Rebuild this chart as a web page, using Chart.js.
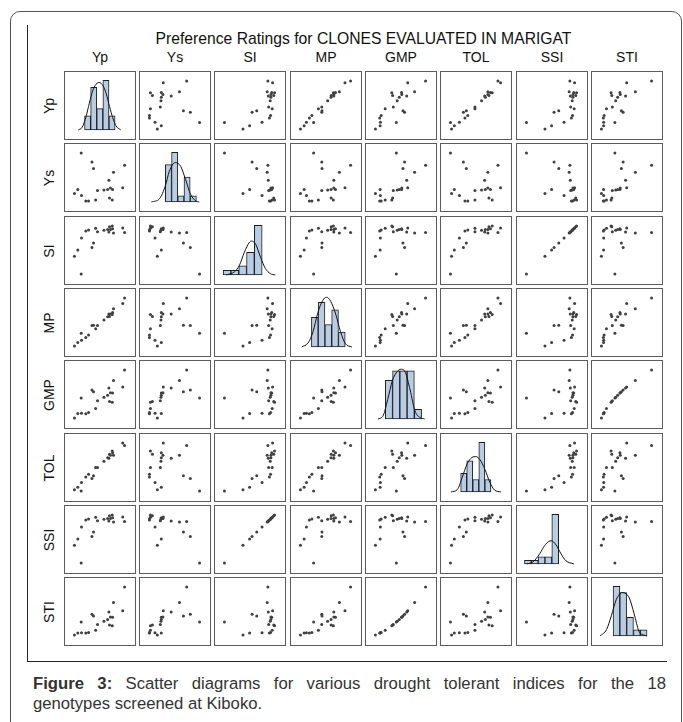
<!DOCTYPE html>
<html>
<head>
<meta charset="utf-8">
<script src="https://cdn.jsdelivr.net/npm/chart.js@4.4.0/dist/chart.umd.min.js"></script>
<style>
  body { margin: 0; background: #fff; font-family: "Liberation Sans", Arial, sans-serif; }
  #page { position: relative; width: 683px; height: 722px; overflow: hidden; }
  .frame { position: absolute; left: 10px; top: 11px; width: 672px; height: 760px;
           border: 1px solid #555; border-radius: 10px; box-sizing: border-box; }
  .vline { position: absolute; left: 27px; top: 25px; width: 1px; height: 636px; background: #222; }
  .hline { position: absolute; left: 27px; top: 661px; width: 640px; height: 1px; background: #222; }
  .title { position: absolute; left: 64px; width: 599px; top: 30px; text-align: center;
           font-size: 15.7px; color: #111; line-height: 18px; white-space: nowrap; }
  .collab { position: absolute; top: 48px; width: 72px; text-align: center; font-size: 14px;
            line-height: 18px; color: #111; }
  .rowlab { position: absolute; width: 60px; height: 18px; line-height: 18px; text-align: center;
            font-size: 14px; color: #111; transform: rotate(-90deg); }
  .panel { position: absolute; width: 72px; height: 69px; box-sizing: border-box;
           border: 1.5px solid #5c5c5c; background: #fff; }
  .panel canvas { display: block; }
  .caption { position: absolute; left: 33px; width: 633px; font-size: 16.7px; color: #333; line-height: 20px; }
  .cap1 { top: 674px; text-align: justify; text-align-last: justify; white-space: nowrap; }
  .cap2 { top: 694px; }
</style>
</head>
<body>
<div id="page">
  <div class="frame"></div>
  <div class="vline"></div>
  <div class="hline"></div>
  <div class="title">Preference Ratings for CLONES EVALUATED IN MARIGAT</div>
  <div class="caption cap1"><b>Figure 3:</b> Scatter diagrams for various drought tolerant indices for the 18</div>
  <div class="caption cap2">genotypes screened at Kiboko.</div>
</div>
<script>
// variable names (diagonal labels)
const varNames = ['Yp', 'Ys', 'SI', 'MP', 'GMP', 'TOL', 'SSI', 'STI'];

// values per clone
const yp  = [4.7, 8.2, 8.7, 18.8, 15.2, 13.7, 18.2, 2.5, 3.6, 4.8, 6.2, 7.1, 9.4, 10.0, 12.1, 13.3, 14.2, 14.9, 13.9, 14.8];
const ys  = [3.94, 3.38, 2.96, 3.16, 2.72, 2.22, 1.74, 1.38, 1.62, 1.24, 0.90, 0.90, 0.96, 1.56, 1.60, 1.62, 1.72, 1.62, 1.08, 0.96];
const si  = [0.162, 0.588, 0.660, 0.832, 0.821, 0.838, 0.904, 0.448, 0.550, 0.742, 0.855, 0.873, 0.898, 0.844, 0.868, 0.878, 0.879, 0.891, 0.922, 0.935];
const mp  = [4.32, 5.79, 5.83, 10.98, 8.96, 7.96, 9.97, 1.94, 2.61, 3.02, 3.55, 4.00, 5.18, 5.78, 6.85, 7.46, 7.96, 8.26, 7.49, 7.88];
const gmp = [4.30, 5.26, 5.07, 7.71, 6.43, 5.51, 5.63, 1.86, 2.41, 2.44, 2.36, 2.53, 3.00, 3.95, 4.40, 4.64, 4.94, 4.91, 3.87, 3.77];
const tol = [0.76, 4.82, 5.74, 15.64, 12.48, 11.48, 16.46, 1.12, 1.98, 3.56, 5.30, 6.20, 8.44, 8.44, 10.50, 11.68, 12.48, 13.28, 12.82, 13.84];
const ssi = [0.211, 0.764, 0.858, 1.081, 1.067, 1.089, 1.175, 0.582, 0.715, 0.964, 1.111, 1.135, 1.167, 1.097, 1.128, 1.141, 1.142, 1.158, 1.198, 1.215];
const sti = [0.161, 0.241, 0.224, 0.518, 0.360, 0.265, 0.276, 0.030, 0.051, 0.052, 0.049, 0.056, 0.079, 0.136, 0.169, 0.188, 0.213, 0.210, 0.131, 0.124];

// histograms on the diagonal: bin edges and counts
const ypBreaks  = [6.0, 7.9, 9.8, 11.7, 13.6, 15.5];       const ypCounts  = [2, 6, 3, 7, 2];
const ysBreaks  = [1.89, 2.25, 2.61, 2.97, 3.33, 3.69];     const ysCounts  = [6, 8, 1, 4, 1];
const siBreaks  = [0.160, 0.275, 0.390, 0.505, 0.620, 0.735]; const siCounts = [1, 1, 2, 5, 11];
const mpBreaks  = [4.03, 5.20, 6.36, 7.53, 8.69, 9.86];     const mpCounts  = [4, 6, 3, 5, 2];
const gmpBreaks = [3.09, 3.90, 4.71, 5.52, 6.33, 7.14];     const gmpCounts = [4, 5, 5, 5, 1];
const tolBreaks = [4.17, 5.98, 7.79, 9.60, 11.41, 13.22];   const tolCounts = [3, 5, 2, 8, 2];
const ssiBreaks = [0.195, 0.326, 0.457, 0.588, 0.719, 0.850]; const ssiCounts = [1, 1, 2, 2, 14];
const stiBreaks = [0.149, 0.212, 0.275, 0.339, 0.402, 0.465]; const stiCounts = [8, 7, 3, 1, 1];

// density curves over the histograms (x in variable units, y in count units)
const ypCurveX  = [4.04, 5.25, 6.23, 7.24, 8.25, 9.26, 10.54, 11.74, 12.75, 13.76, 14.77, 15.76, 17.26];
const ypCurveY  = [0, 0.37, 1.49, 3.30, 5.10, 6.23, 6.69, 6.23, 5.10, 3.30, 1.72, 0.59, 0];
const ysCurveX  = [1.08, 1.55, 1.89, 2.12, 2.46, 2.78, 3.06, 3.34, 3.68, 3.85];
const ysCurveY  = [0, 0.52, 2.60, 4.93, 6.34, 5.72, 3.63, 1.30, 0.11, 0];
const siCurveX  = [0.208, 0.328, 0.400, 0.472, 0.543, 0.577, 0.640, 0.711, 0.783, 0.856, 0.928];
const siCurveY  = [0, 0.72, 2.14, 4.99, 7.14, 7.50, 6.78, 3.92, 1.43, 0.29, 0];
const mpCurveX  = [2.36, 3.47, 4.31, 5.15, 5.98, 6.65, 7.37, 8.22, 9.05, 9.89, 11.01];
const mpCurveY  = [0, 0.55, 2.06, 4.63, 6.26, 6.69, 6.13, 4.41, 2.06, 0.43, 0];
const gmpCurveX = [2.27, 2.81, 3.35, 3.89, 4.42, 4.86, 5.33, 5.86, 6.40, 6.94, 7.48];
const gmpCurveY = [0, 0.27, 2.00, 4.00, 4.93, 5.16, 4.83, 3.00, 0.83, 0.16, 0];
const tolCurveX = [1.28, 3.20, 4.64, 6.11, 7.56, 8.71, 9.95, 11.42, 12.87, 14.31, 16.23];
const tolCurveY = [0, 0.41, 2.36, 4.52, 5.55, 5.69, 5.19, 3.64, 1.59, 0.31, 0];
const ssiCurveX = [0.240, 0.364, 0.488, 0.582, 0.663, 0.706, 0.800, 0.894, 0.988, 1.142];
const ssiCurveY = [0, 0.63, 2.89, 5.18, 6.36, 6.53, 5.36, 2.89, 0.91, 0];
const stiCurveX = [0.028, 0.088, 0.134, 0.179, 0.234, 0.269, 0.300, 0.345, 0.390, 0.435, 0.465];
const stiCurveY = [0, 1.02, 3.31, 5.86, 6.99, 6.79, 6.13, 3.57, 0.76, 0.15, 0];

const series = [yp, ys, si, mp, gmp, tol, ssi, sti];
const breaks = [ypBreaks, ysBreaks, siBreaks, mpBreaks, gmpBreaks, tolBreaks, ssiBreaks, stiBreaks];
const counts = [ypCounts, ysCounts, siCounts, mpCounts, gmpCounts, tolCounts, ssiCounts, stiCounts];
const curveX = [ypCurveX, ysCurveX, siCurveX, mpCurveX, gmpCurveX, tolCurveX, ssiCurveX, stiCurveX];
const curveY = [ypCurveY, ysCurveY, siCurveY, mpCurveY, gmpCurveY, tolCurveY, ssiCurveY, stiCurveY];

// grid geometry
const colLeft = [64, 139, 214, 290, 365, 440, 516, 591];
const rowTop = [71, 143, 216, 288, 360, 433, 505, 577];
const page = document.getElementById('page');

function range(v) {
  const lo = Math.min(...v), hi = Math.max(...v);
  const pad = (hi - lo) * 0.158;
  return { min: lo - pad, max: hi + pad };
}

// hidden linear axis with only its two ends as ticks
function hiddenAxis(min, max) {
  return {
    type: 'linear', display: false, offset: false, min: min, max: max,
    afterBuildTicks: function(scale) { scale.ticks = [{ value: min }, { value: max }]; }
  };
}

const baseOptions = {
  responsive: false,
  animation: false,
  events: [],
  layout: { padding: 0 },
  plugins: { legend: { display: false }, tooltip: { enabled: false } }
};

// labels
varNames.forEach(function(name, i) {
  const c = document.createElement('div');
  c.className = 'collab';
  c.style.left = colLeft[i] + 'px';
  c.textContent = name;
  page.appendChild(c);

  const r = document.createElement('div');
  r.className = 'rowlab';
  r.style.left = (49 - 30) + 'px';
  r.style.top = (rowTop[i] + 34.5 - 9) + 'px';
  r.textContent = name;
  page.appendChild(r);
});

for (let row = 0; row < 8; row++) {
  for (let col = 0; col < 8; col++) {
    const box = document.createElement('div');
    box.className = 'panel';
    box.style.left = colLeft[col] + 'px';
    box.style.top = rowTop[row] + 'px';
    const cv = document.createElement('canvas');
    cv.width = 69; cv.height = 66;
    cv.style.width = '69px'; cv.style.height = '66px';
    box.appendChild(cv);
    page.appendChild(box);

    const rx = range(series[col]);

    if (row === col) {
      const b = breaks[col], n = counts[col];
      const bars = n.map((c, k) => ({ x: (b[k] + b[k + 1]) / 2, y: c }));
      const line = curveX[col].map((x, k) => ({ x: x, y: curveY[col][k] }));
      const M = Math.max(...n, ...curveY[col]);
      new Chart(cv, {
        type: 'bar',
        data: {
          datasets: [{
            type: 'bar',
            data: bars,
            backgroundColor: '#b8cce4',
            borderColor: '#1e1e1e',
            borderWidth: 1,
            borderSkipped: false,
            barPercentage: 1,
            categoryPercentage: 1,
            order: 2
          }, {
            type: 'line',
            data: line,
            borderColor: '#111',
            borderWidth: 1,
            pointRadius: 0,
            fill: false,
            cubicInterpolationMode: 'monotone',
            order: 1
          }]
        },
        options: Object.assign({}, baseOptions, {
          scales: { x: hiddenAxis(rx.min, rx.max), y: hiddenAxis(-0.162 * M, 1.166 * M) }
        })
      });
    } else {
      const ry = range(series[row]);
      const pts = series[col].map((x, k) => ({ x: x, y: series[row][k] }));
      new Chart(cv, {
        type: 'scatter',
        data: {
          datasets: [{
            data: pts,
            pointRadius: 1.5,
            pointBackgroundColor: '#404040',
            pointBorderWidth: 0,
            pointHoverRadius: 1.5
          }]
        },
        options: Object.assign({}, baseOptions, {
          scales: { x: hiddenAxis(rx.min, rx.max), y: hiddenAxis(ry.min, ry.max) }
        })
      });
    }
  }
}
</script>
</body>
</html>
